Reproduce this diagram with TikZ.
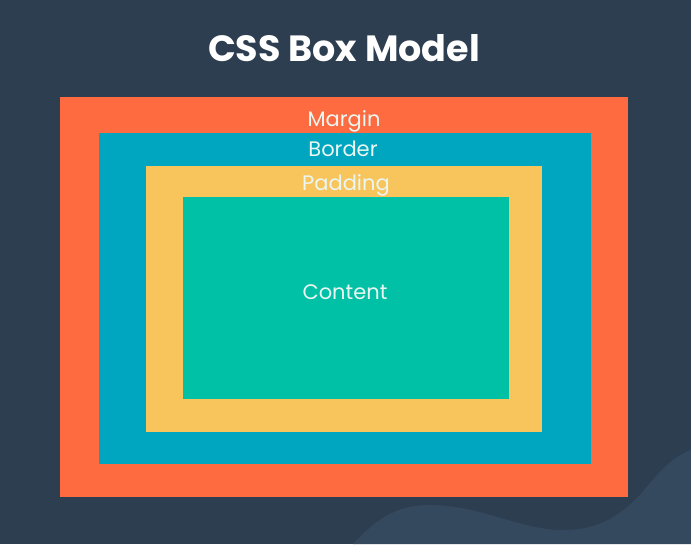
\documentclass[tikz,border=0pt]{standalone}
\usepackage{fontspec}
\setmainfont{Poppins}
\definecolor{bgnavy}{HTML}{2C3E50}
\definecolor{wavenavy}{HTML}{34495E}
\definecolor{marginc}{HTML}{FF6B40}
\definecolor{borderc}{HTML}{00A6C0}
\definecolor{paddingc}{HTML}{F8C45C}
\definecolor{contentc}{HTML}{00C1A6}
\definecolor{labelc}{HTML}{EAF6F1}
\begin{document}
\begin{tikzpicture}[x=1pt,y=-1pt,
  lbl/.style={anchor=base,inner sep=0pt,text=labelc,font=\fontsize{21}{23}\selectfont},
  ttl/.style={anchor=base,inner sep=0pt,text=white,font=\fontsize{36.5}{40}\selectfont\bfseries}]
\fill[bgnavy] (0,0) rectangle (691,544);
\useasboundingbox (0,0) rectangle (691,544);
\fill[wavenavy] (353,544) .. controls (380,515) and (400,505) .. (430,505)
  .. controls (480,505) and (520,530) .. (563,530)
  .. controls (600,530) and (620,515) .. (640,495)
  .. controls (660,470) and (675,455) .. (691,450) -- (691,544) -- cycle;
\fill[marginc] (60,97) rectangle (628,497);
\fill[borderc] (99,133) rectangle (591,464);
\fill[paddingc] (146,166) rectangle (542,432);
\fill[contentc] (183,197) rectangle (509,399);
\node[ttl] (title) at (344,61) {CSS Box Model};
\node[lbl] (margin) at (344,126) {Margin};
\node[lbl] (border) at (343,156) {Border};
\node[lbl] (padding) at (346,190) {Padding};
\node[lbl] (content) at (345,299) {Content};
\end{tikzpicture}
\end{document}
